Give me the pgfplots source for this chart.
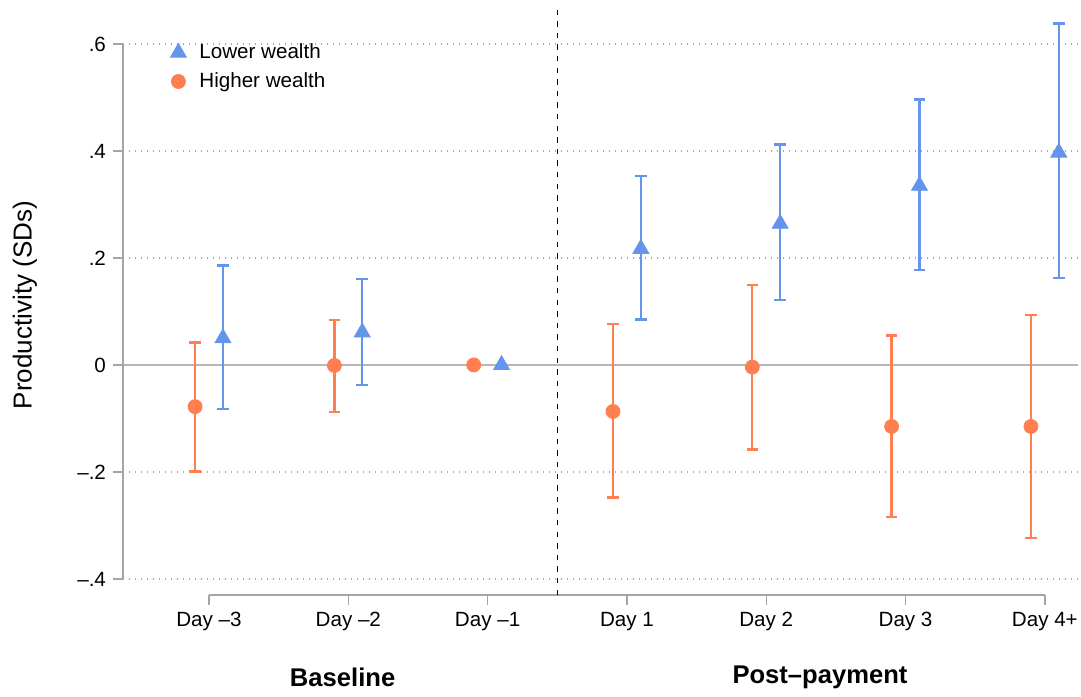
\documentclass[border=0pt]{standalone}
\usepackage{pgfplots}
\pgfplotsset{compat=1.18}
\usepackage{pgfplotstable}
\usepackage{fontspec}
\setmainfont{Liberation Sans}
\definecolor{cblue}{RGB}{100,149,237}
\definecolor{corange}{RGB}{255,127,80}
\definecolor{axgray}{RGB}{165,165,165}

\pgfplotstableread{
x y ep em
0.1 0.050 0.136 0.132
1.1 0.061 0.100 0.098
3.1 0.217 0.136 0.132
4.1 0.264 0.148 0.142
5.1 0.335 0.161 0.158
6.1 0.397 0.241 0.235
}\lowtab
\pgfplotstableread{
x y ep em
-0.1 -0.078 0.120 0.121
0.9 -0.001 0.085 0.087
2.9 -0.087 0.163 0.161
3.9 -0.004 0.153 0.154
4.9 -0.115 0.170 0.169
5.9 -0.115 0.208 0.209
}\hightab

\begin{document}
\begin{tikzpicture}
\useasboundingbox (-61.5pt,-50.5pt) rectangle (479pt,297.5pt);
\begin{axis}[
  scale only axis,
  width=477.5pt, height=294pt,
  xmin=-0.6174, xmax=6.238,
  ymin=-0.43, ymax=0.669,
  clip=false,
  axis lines=left,
  axis line style={draw=none},
  tick align=outside,
  major tick length=5pt,
  tick style={axgray, line width=0.7pt},
  xtick={0,1,2,3,4,5,6},
  xticklabels={Day –3,Day –2,Day –1,Day 1,Day 2,Day 3,Day 4+},
  ytick={-0.4,-0.2,0.2,0.4,0.6},
  yticklabels={–.4,–.2,.2,.4,.6},
  extra y ticks={0},
  extra y tick labels={0},
  extra y tick style={grid=major, major grid style={solid, axgray!80, line width=0.9pt}},
  ymajorgrids,
  major grid style={gray!70, line width=0.6pt, dash pattern=on 0.5pt off 2.5pt},
  ticklabel style={font=\fontsize{10.3}{12}\selectfont},
  /pgf/number format/assume math mode=true,
  ylabel={Productivity (SDs)},
  ylabel style={at={(axis description cs:-0.1026,0.493)}, anchor=center, font=\fontsize{13}{15}\selectfont},
  legend cell align=left,
  legend style={draw=none, fill=none, at={(axis description cs:0.043,0.952)}, anchor=north west,
    font=\fontsize{10.3}{12}\selectfont, row sep=1.5pt,
    /tikz/every odd column/.append style={column sep=4.5pt}},
  error bars/error bar style={line width=1.15pt},
  error bars/error mark options={rotate=90, mark size=2.9pt, line width=1.15pt},
]
\draw[axgray, line width=0.8pt] (axis cs:0,-0.43) -- (axis cs:6,-0.43);
\draw[axgray, line width=0.8pt] (axis cs:-0.6174,-0.4) -- (axis cs:-0.6174,0.6);
\draw[black, line width=0.75pt, dash pattern=on 2.7pt off 3.1pt] (axis cs:2.5,-0.43) -- (axis cs:2.5,0.669);

\addplot[only marks, mark=triangle*, mark size=4.6pt, color=cblue, mark options={fill=cblue, draw=cblue},
  error bars/.cd, y dir=both, y explicit]
  table[x=x, y=y, y error plus=ep, y error minus=em]{\lowtab};
\addlegendentry{Lower wealth}
\addplot[only marks, mark=*, mark size=3.5pt, color=corange, mark options={fill=corange, draw=corange},
  error bars/.cd, y dir=both, y explicit]
  table[x=x, y=y, y error plus=ep, y error minus=em]{\hightab};
\addlegendentry{Higher wealth}
\addplot[only marks, mark=triangle*, mark size=4.6pt, color=cblue, mark options={fill=cblue, draw=cblue}, forget plot]
  coordinates {(2.1,0)};
\addplot[only marks, mark=*, mark size=3.5pt, color=corange, mark options={fill=corange, draw=corange}, forget plot]
  coordinates {(1.9,0)};

\node[font=\bfseries\fontsize{12.8}{15}\selectfont] at (axis cs:0.959,-0.583) {Baseline};
\node[font=\bfseries\fontsize{12.8}{15}\selectfont] at (axis cs:4.386,-0.583) {Post–payment};
\end{axis}
\end{tikzpicture}
\end{document}
